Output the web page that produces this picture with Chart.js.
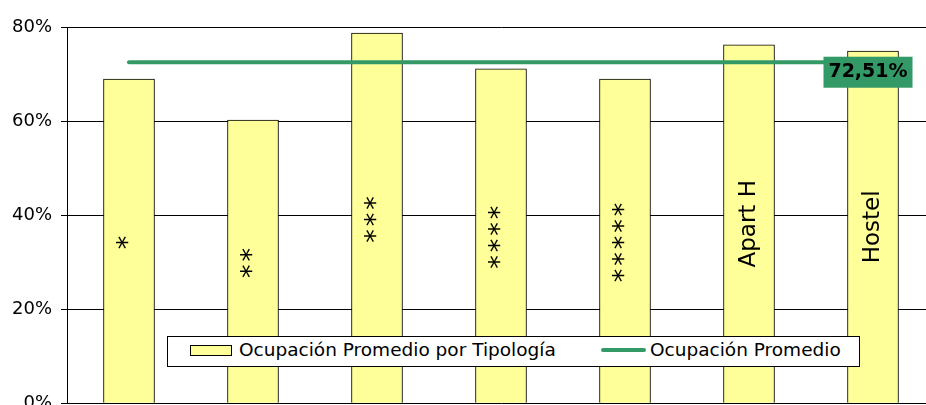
<!DOCTYPE html>
<html>
<head>
<meta charset="utf-8">
<script src="https://cdn.jsdelivr.net/npm/chart.js@4"></script>
<style>
  html, body { margin: 0; padding: 0; overflow: hidden; background: #fff; }
  #wrap { position: relative; width: 940px; height: 405px; overflow: hidden; }
  #legend {
    position: absolute; left: 167px; top: 336px; width: 691px; height: 29px;
    border: 1px solid #000; background: #fff;
    font-family: "DejaVu Sans", sans-serif; font-size: 18.5px; color: #000;
  }
  #legend .sw1 { position: absolute; left: 22px; top: 8px; width: 40px; height: 9px; background: #ffff99; border: 1px solid #000; }
  #legend .t1 { position: absolute; left: 71px; top: 2px; }
  #legend .sw2 { position: absolute; left: 433px; top: 11px; width: 45px; height: 4px; background: #339966; border-radius: 2px; }
  #legend .t2 { position: absolute; left: 482px; top: 2px; }
</style>
</head>
<body>
<div id="wrap">
  <canvas id="myChart" width="940" height="423"></canvas>
  <div id="legend">
    <div class="sw1"></div><div class="t1">Ocupación Promedio por Tipología</div>
    <div class="sw2"></div><div class="t2">Ocupación Promedio</div>
  </div>
</div>
<script>
'use strict';
// categorías (se muestran dentro de cada barra)
const categories = ['*', '**', '***', '****', '*****', 'Apart H', 'Hostel'];
// ocupación por tipología (%)
const occupancy = [68.9, 60.2, 78.7, 71.1, 68.9, 76.2, 74.9];
// ocupación promedio (%)
const average = [72.51, 72.51, 72.51, 72.51, 72.51, 72.51, 72.51];
const averageLabel = '72,51%';
const yTicks = [0, 20, 40, 60, 80];

// etiquetas verticales dentro de las barras
const barLabels = {
  id: 'barLabels',
  afterDatasetsDraw(chart) {
    const ctx = chart.ctx;
    const meta = chart.getDatasetMeta(0);
    ctx.save();
    ctx.fillStyle = '#000';
    ctx.textAlign = 'center';
    ctx.textBaseline = 'middle';
    meta.data.forEach((bar, i) => {
      const txt = categories[i];
      const stars = txt.startsWith('*');
      const mid = (bar.y + bar.base) / 2;
      ctx.save();
      ctx.translate(bar.x, mid);
      ctx.rotate(-Math.PI / 2);
      ctx.font = stars ? '27px "DejaVu Sans"' : '23px "DejaVu Sans"';
      ctx.letterSpacing = stars ? '3px' : '0px';
      ctx.fillText(txt, 0, 0);
      ctx.restore();
    });
    ctx.restore();
  }
};

// etiqueta del promedio
const avgLabel = {
  id: 'avgLabel',
  afterDraw(chart) {
    const ctx = chart.ctx;
    const meta = chart.getDatasetMeta(1);
    const p = meta.data[meta.data.length - 1];
    const w = 89, h = 31;
    const cx = p.x - 5, cy = p.y + 10;
    ctx.save();
    ctx.fillStyle = '#339966';
    ctx.fillRect(cx - w / 2, cy - h / 2, w, h);
    ctx.fillStyle = '#000';
    ctx.font = 'bold 19px "DejaVu Sans"';
    ctx.textAlign = 'center';
    ctx.textBaseline = 'middle';
    ctx.fillText(averageLabel, cx, cy);
    ctx.restore();
  }
};

const data = {
  labels: categories,
  datasets: [{
    type: 'bar',
    label: 'Ocupación Promedio por Tipología',
    data: occupancy,
    backgroundColor: '#ffff99',
    borderColor: '#000',
    borderWidth: 1,
    barThickness: 51,
    order: 1
  }, {
    type: 'line',
    label: 'Ocupación Promedio',
    data: average,
    borderColor: '#339966',
    borderWidth: 4,
    borderCapStyle: 'round',
    pointRadius: 0,
    order: 0
  }]
};

const config = {
  type: 'bar',
  data: data,
  options: {
    responsive: false,
    animation: false,
    layout: { padding: { top: 27, right: 5, bottom: 2, left: 0 } },
    plugins: { legend: { display: false }, tooltip: { enabled: false } },
    scales: {
      x: { display: false },
      y: {
        min: 0, max: 80,
        afterBuildTicks: s => { s.ticks = yTicks.map(v => ({ value: v })); },
        afterFit: s => { s.width = 67; },
        ticks: {
          color: '#000',
          font: { family: '"DejaVu Sans"', size: 18 },
          padding: 9,
          callback: v => v + '%'
        },
        grid: { color: '#000', lineWidth: 1, tickLength: 6 },
        border: { color: '#000', width: 1 }
      }
    }
  },
  plugins: [barLabels, avgLabel]
};

const myChart = new Chart(document.getElementById('myChart'), config);
</script>
</body>
</html>
